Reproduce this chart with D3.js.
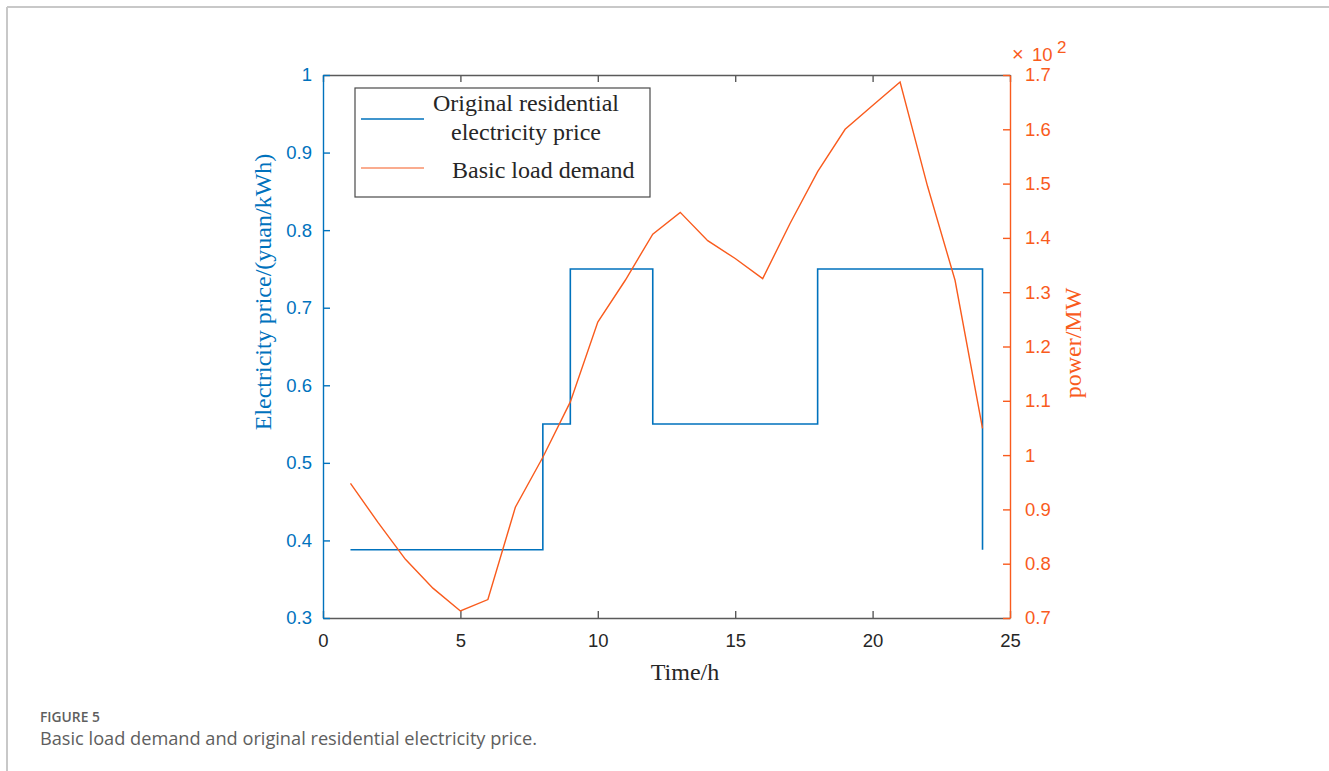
<!DOCTYPE html>
<html>
<head>
<meta charset="utf-8">
<script src="https://cdn.jsdelivr.net/npm/d3@7"></script>
<style>
  body { margin: 0; background: #fff; }
  svg { display: block; }
  .tk text { font-family: 'Liberation Sans', Arial, sans-serif; font-size: 18.5px; }
  .serif { font-family: 'Liberation Serif', 'Times New Roman', serif; font-size: 24px; }
  .cap { font-family: 'Open Sans', sans-serif; }
</style>
</head>
<body>
<div class="mainContainer"></div>
<script>
// data
const hours = [1,2,3,4,5,6,7,8,9,10,11,12,13,14,15,16,17,18,19,20,21,22,23,24];
const price = [0.388,0.388,0.388,0.388,0.388,0.388,0.388,0.55,0.75,0.75,0.75,0.55,
               0.55,0.55,0.55,0.55,0.55,0.75,0.75,0.75,0.75,0.75,0.75,0.388];
// basic load, x10^2 MW
const load = [0.948,0.876,0.808,0.755,0.713,0.734,0.904,0.996,1.098,1.245,1.322,1.407,
              1.447,1.395,1.362,1.325,1.427,1.522,1.600,1.644,1.687,1.495,1.322,1.049];
const xTicks = [0,5,10,15,20,25];
const leftTicks = [0.3,0.4,0.5,0.6,0.7,0.8,0.9,1];
const rightTicks = [0.7,0.8,0.9,1,1.1,1.2,1.3,1.4,1.5,1.6,1.7];
const legendLabels = [['Original residential','electricity price'], ['Basic load demand']];

const blue = '#0072BD';
const orange = '#F95B1D';
const axisGray = '#5a5a5a';

const svg = d3.select('.mainContainer')
    .append('svg')
    .attr('width', 1329)
    .attr('height', 771);

// page frame
svg.append('line').attr('x1', 7).attr('x2', 1329).attr('y1', 7).attr('y2', 7)
    .attr('stroke', '#c8c8c8').attr('stroke-width', 2);
svg.append('line').attr('x1', 7).attr('x2', 7).attr('y1', 7).attr('y2', 771)
    .attr('stroke', '#c8c8c8').attr('stroke-width', 2);

const x = d3.scaleLinear().domain([0, 25]).range([323, 1010]);
const yL = d3.scaleLinear().domain([0.3, 1]).range([618, 75]);
const yR = d3.scaleLinear().domain([0.7, 1.7]).range([618, 75]);

const fmt = d => d === 1 ? '1' : d3.format('.1f')(d);

// bottom axis
const xAxisGroup = svg.append('g').attr('class', 'tk').attr('transform', 'translate(0,618)')
    .call(d3.axisBottom(x).tickValues(xTicks).tickSizeInner(-7).tickSizeOuter(0).tickPadding(16));
xAxisGroup.select('.domain').attr('stroke', axisGray).attr('stroke-width', 1.4);
xAxisGroup.selectAll('.tick line').attr('stroke', axisGray).attr('stroke-width', 1.4);
xAxisGroup.selectAll('text').attr('fill', '#262626');

// top axis (ticks only)
const topGroup = svg.append('g').attr('transform', 'translate(0,75)')
    .call(d3.axisTop(x).tickValues(xTicks).tickSizeInner(-7).tickSizeOuter(0).tickFormat(''));
topGroup.select('.domain').attr('stroke', axisGray).attr('stroke-width', 1.4);
topGroup.selectAll('.tick line').attr('stroke', axisGray).attr('stroke-width', 1.4);

// left axis
const yAxisGroup = svg.append('g').attr('class', 'tk').attr('transform', 'translate(323,0)')
    .call(d3.axisLeft(yL).tickValues(leftTicks).tickSizeInner(-7).tickSizeOuter(0).tickPadding(11)
        .tickFormat(fmt));
yAxisGroup.select('.domain').attr('stroke', blue).attr('stroke-width', 1.4);
yAxisGroup.selectAll('.tick line').attr('stroke', blue).attr('stroke-width', 1.4);
yAxisGroup.selectAll('text').attr('fill', blue);

// right axis
const yAxisGroupR = svg.append('g').attr('class', 'tk').attr('transform', 'translate(1010,0)')
    .call(d3.axisRight(yR).tickValues(rightTicks).tickSizeInner(-7).tickSizeOuter(0).tickPadding(15)
        .tickFormat(fmt));
yAxisGroupR.select('.domain').attr('stroke', orange).attr('stroke-width', 1.4);
yAxisGroupR.selectAll('.tick line').attr('stroke', orange).attr('stroke-width', 1.4);
yAxisGroupR.selectAll('text').attr('fill', orange);

// exponent label
const expo = svg.append('g').attr('class', 'tk');
expo.append('text').attr('x', 1012).attr('y', 61).attr('fill', orange).style('font-size', '20px').text('×');
expo.append('text').attr('x', 1032).attr('y', 61).attr('fill', orange).text('10');
expo.append('text').attr('x', 1057).attr('y', 53).attr('fill', orange).style('font-size', '17px').text('2');

// series
const priceLine = d3.line()
    .x((d, i) => x(hours[i]))
    .y(d => yL(d))
    .curve(d3.curveStepAfter);
svg.append('path').datum(price)
    .attr('d', priceLine)
    .attr('fill', 'none').attr('stroke', blue).attr('stroke-width', 1.6);

const loadLine = d3.line()
    .x((d, i) => x(hours[i]))
    .y(d => yR(d));
svg.append('path').datum(load)
    .attr('d', loadLine)
    .attr('fill', 'none').attr('stroke', orange).attr('stroke-width', 1.4);

// axis labels
svg.append('text').attr('class', 'serif').attr('transform', 'translate(271,292) rotate(-90)')
    .attr('text-anchor', 'middle').attr('fill', blue).text('Electricity price/(yuan/kWh)');
svg.append('text').attr('class', 'serif').attr('transform', 'translate(1081,343) rotate(-90)')
    .attr('text-anchor', 'middle').attr('fill', orange).text('power/MW');
svg.append('text').attr('class', 'serif').attr('x', 685).attr('y', 680)
    .attr('text-anchor', 'middle').attr('fill', '#262626').text('Time/h');

// legend
const legend = svg.append('g');
legend.append('rect').attr('x', 355).attr('y', 88).attr('width', 295).attr('height', 109)
    .attr('fill', '#fff').attr('stroke', '#4a4a4a').attr('stroke-width', 1.2);
legend.append('line').attr('x1', 361).attr('x2', 424).attr('y1', 119).attr('y2', 119)
    .attr('stroke', blue).attr('stroke-width', 1.4);
legend.append('line').attr('x1', 361).attr('x2', 424).attr('y1', 168).attr('y2', 168)
    .attr('stroke', '#F9906A').attr('stroke-width', 1.4);
legend.append('text').attr('class', 'serif').attr('x', 526).attr('y', 111).attr('text-anchor', 'middle')
    .attr('fill', '#262626').text(legendLabels[0][0]);
legend.append('text').attr('class', 'serif').attr('x', 526).attr('y', 140).attr('text-anchor', 'middle')
    .attr('fill', '#262626').text(legendLabels[0][1]);
legend.append('text').attr('class', 'serif').attr('x', 452).attr('y', 178)
    .attr('fill', '#262626').text(legendLabels[1][0]);

// caption
svg.append('text').attr('class', 'cap').attr('x', 40).attr('y', 722)
    .attr('font-size', 13.8).attr('font-weight', 600)
    .attr('fill', '#5e5e5e').text('FIGURE 5');
svg.append('text').attr('class', 'cap').attr('x', 40).attr('y', 745)
    .attr('font-size', 18.2)
    .attr('fill', '#5e5e5e').text('Basic load demand and original residential electricity price.');
</script>
</body>
</html>
